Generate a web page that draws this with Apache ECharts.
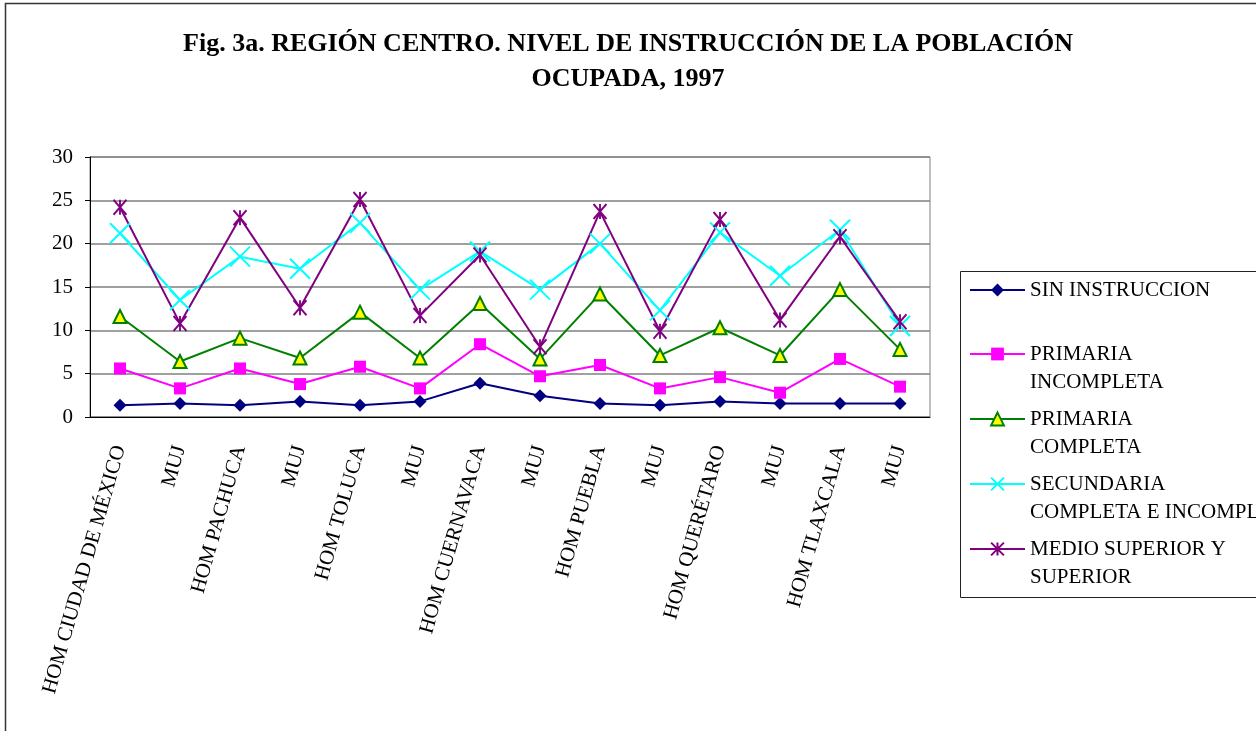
<!DOCTYPE html>
<html>
<head>
<meta charset="utf-8">
<script src="https://cdn.jsdelivr.net/npm/echarts@6/dist/echarts.min.js"></script>
<style>
    html, body { margin: 0; padding: 0; background: #fff; }
    #chart { width: 1256px; height: 731px; }
</style>
</head>
<body>
<div id="chart"></div>
<script>
// categories (HOM / MUJ per city)
const categories = [
    "HOM CIUDAD DE MÉXICO", "MUJ", "HOM PACHUCA", "MUJ", "HOM TOLUCA", "MUJ",
    "HOM CUERNAVACA", "MUJ", "HOM PUEBLA", "MUJ", "HOM QUERÉTARO", "MUJ",
    "HOM TLAXCALA", "MUJ"
];
const yTicks = [0, 5, 10, 15, 20, 25, 30];

// values
const sinInstruccion = [1.35, 1.55, 1.35, 1.8, 1.35, 1.8, 3.9, 2.45, 1.55, 1.35, 1.8, 1.55, 1.55, 1.55];
const primariaIncompleta = [5.6, 3.3, 5.6, 3.8, 5.8, 3.3, 8.4, 4.7, 6.0, 3.3, 4.6, 2.8, 6.7, 3.5];
const primariaCompleta = [11.6, 6.4, 9.1, 6.8, 12.1, 6.8, 13.1, 6.7, 14.2, 7.1, 10.3, 7.1, 14.7, 7.8];
const secundaria = [21.2, 13.5, 18.5, 17.1, 22.4, 14.7, 19.1, 14.7, 20.0, 12.3, 21.3, 16.3, 21.6, 10.5];
const medioSuperior = [24.2, 10.8, 23.0, 12.6, 25.1, 11.7, 18.7, 8.1, 23.7, 9.9, 22.8, 11.2, 20.8, 11.0];

const serif = "Liberation Serif";
const crossPath = "path://M0,0L20,20M20,0L0,20";
const starPath = "path://M0,0L12,14M12,0L0,14M6,0L6,14";

// one legend per entry; two-line labels get an empty first line
// so that the icon sits level with the first line of text
function legendEntry(name, label, iconY) {
    let twoLines = label.indexOf("\n") >= 0;
    return {
        data: [name],
        left: 969,
        top: twoLines ? iconY - 42 : iconY - 14,
        padding: 0,
        itemWidth: 55,
        itemHeight: 16,
        selectedMode: false,
        formatter: () => (twoLines ? "\n" + label : label),
        textStyle: {
            fontFamily: serif,
            fontSize: 21,
            lineHeight: 28,
            color: "#000",
        },
    };
}

function lineSeries(name, data, color, symbol, size, itemStyle) {
    return {
        name: name,
        type: "line",
        data: data,
        symbol: symbol,
        symbolSize: size,
        showAllSymbol: true,
        lineStyle: { color: color, width: 2 },
        itemStyle: itemStyle,
        emphasis: { disabled: true },
        z: 3,
    };
}

let chart = echarts.init(document.getElementById("chart"));
let option = {
    animation: false,
    backgroundColor: "#fff",
    title: {
        text: "Fig. 3a. REGIÓN CENTRO. NIVEL DE INSTRUCCIÓN DE LA POBLACIÓN\nOCUPADA, 1997",
        left: "center",
        top: 22,
        textStyle: {
            fontFamily: serif,
            fontWeight: "bold",
            fontSize: 26,
            lineHeight: 35,
            color: "#000",
        },
    },
    legend: [
        legendEntry("SIN INSTRUCCION", "SIN INSTRUCCION", 290),
        legendEntry("PRIMARIA INCOMPLETA", "PRIMARIA\nINCOMPLETA", 354),
        legendEntry("PRIMARIA COMPLETA", "PRIMARIA\nCOMPLETA", 419),
        legendEntry("SECUNDARIA COMPLETA E INCOMPLETA", "SECUNDARIA\nCOMPLETA E INCOMPLETA", 484),
        legendEntry("MEDIO SUPERIOR Y SUPERIOR", "MEDIO SUPERIOR Y\nSUPERIOR", 549),
    ],
    grid: {
        left: 90, right: 326, top: 157, bottom: 314,
        show: true,
        borderColor: "#808080",
        borderWidth: 1,
    },
    xAxis: {
        type: "category",
        data: categories,
        boundaryGap: true,
        axisLine: { lineStyle: { color: "#000", width: 1 } },
        axisTick: { length: 5, lineStyle: { color: "#000" } },
        axisLabel: {
            interval: 0,
            rotate: 74,
            margin: 29,
            fontFamily: serif,
            fontSize: 21,
            color: "#000",
            padding: [16, 0, 0, 0],
        },
    },
    yAxis: {
        type: "value",
        min: yTicks[0],
        max: yTicks[yTicks.length - 1],
        interval: 5,
        axisLine: { show: true, lineStyle: { color: "#000", width: 1 } },
        axisTick: { show: true, length: 5, lineStyle: { color: "#000" } },
        axisLabel: { margin: 17, fontFamily: serif, fontSize: 21, color: "#000" },
        splitLine: { lineStyle: { color: "#808080", width: 1.5 } },
    },
    series: [
        lineSeries("SIN INSTRUCCION", sinInstruccion, "#000080", "diamond", 13,
            { color: "#000080" }),
        lineSeries("PRIMARIA INCOMPLETA", primariaIncompleta, "#FF00FF", "rect", 12,
            { color: "#FF00FF" }),
        lineSeries("PRIMARIA COMPLETA", primariaCompleta, "#008000", "triangle", 13,
            { color: "#FFFF00", borderColor: "#008000", borderWidth: 2 }),
        lineSeries("SECUNDARIA COMPLETA E INCOMPLETA", secundaria, "#00FFFF", crossPath, 20,
            { color: "transparent", borderColor: "#00FFFF", borderWidth: 2 }),
        lineSeries("MEDIO SUPERIOR Y SUPERIOR", medioSuperior, "#800080", starPath, [13, 15],
            { color: "transparent", borderColor: "#800080", borderWidth: 2 }),
    ],
    graphic: [
        // outer chart frame
        {
            type: "rect",
            shape: { x: 5.5, y: 3.5, width: 1300, height: 800 },
            style: { fill: "none", stroke: "#333", lineWidth: 1.5 },
            silent: true,
        },
        // legend frame
        {
            type: "rect",
            shape: { x: 960.5, y: 271.5, width: 320, height: 326 },
            style: { fill: "none", stroke: "#222", lineWidth: 1 },
            silent: true,
        },
    ],
};
chart.setOption(option);
</script>
</body>
</html>
